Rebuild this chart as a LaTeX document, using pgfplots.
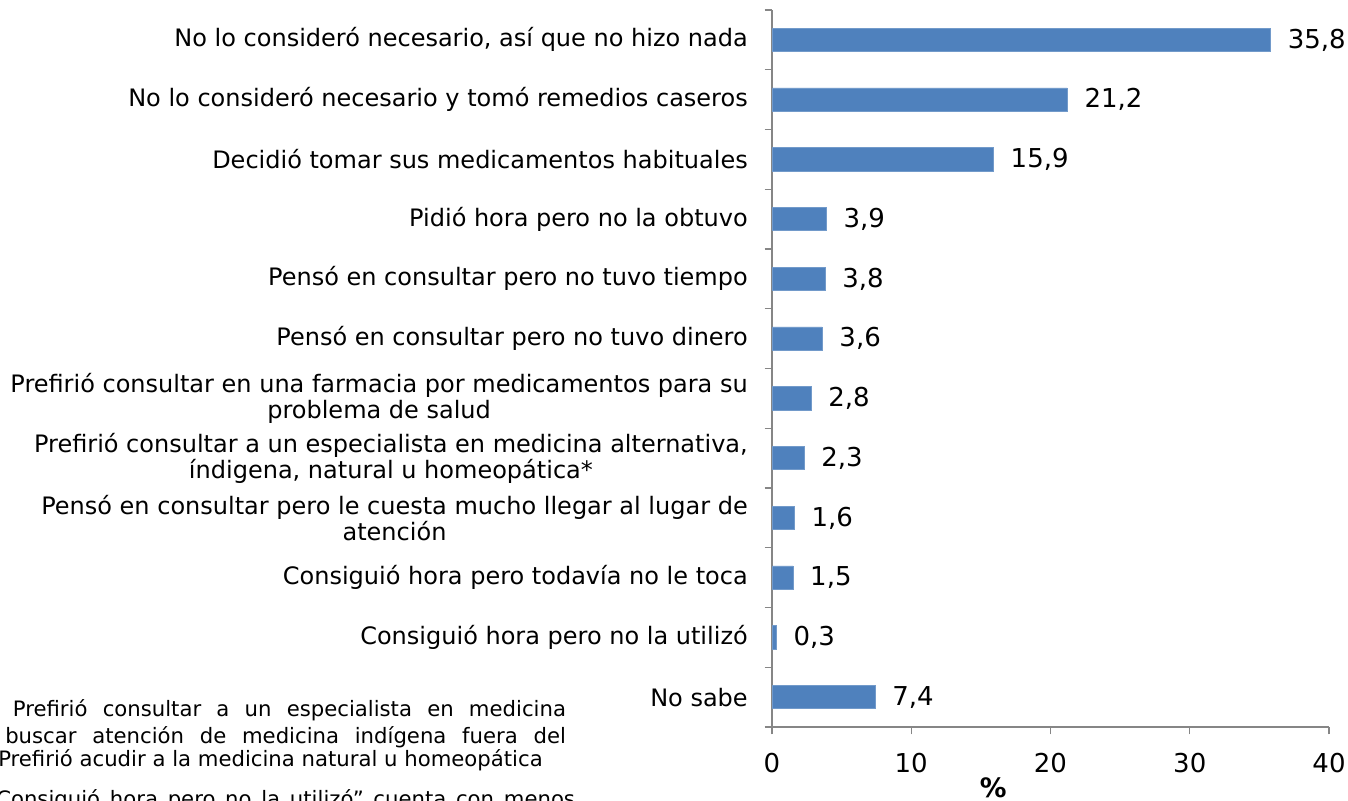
\documentclass[border=0pt]{standalone}
\usepackage{pgfplots}
\pgfplotsset{compat=1.18}
\usepackage{fontspec}
\setmainfont{DejaVu Sans}
\definecolor{barblue}{HTML}{4F81BD}
\definecolor{axisgray}{HTML}{868686}
\begin{document}
\begin{tikzpicture}
\useasboundingbox (0,0) rectangle (1011pt,600pt);
\begin{axis}[
  at={(579pt,54.75pt)}, anchor=south west,
  scale only axis, width=417.75pt, height=537.75pt,
  xbar, bar width=17.5pt,
  xmin=0, xmax=40, xtick={0,10,20,30,40},
  ymin=-0.5, ymax=11.5,
  axis lines*=left,
  axis line style={draw=axisgray, line width=0.9pt},
  tick align=outside,
  major tick length=5.5pt,
  every tick/.style={draw=axisgray, line width=0.9pt},
  /pgf/number format/assume math mode=true,
  xticklabel style={font=\fontsize{19.5}{23}\selectfont, inner sep=0pt, anchor=north, yshift=-14pt},
  ytick={-0.5,0.5,...,11.5},
  yticklabels={},
  extra y ticks={0,1,2,3,4,5,6,7,8,9,10,11},
  extra y tick style={major tick length=0pt},
  extra y tick labels={
    No sabe,
    Consiguió hora pero no la utilizó,
    Consiguió hora pero todavía no le toca,
    {Pensó en consultar pero le cuesta mucho llegar al lugar de\\atención},
    {Prefirió consultar a un especialista en medicina alternativa,\\índigena, natural u homeopática*},
    {Prefirió consultar en una farmacia por medicamentos para su\\problema de salud},
    Pensó en consultar pero no tuvo dinero,
    Pensó en consultar pero no tuvo tiempo,
    Pidió hora pero no la obtuvo,
    Decidió tomar sus medicamentos habituales,
    No lo consideró necesario y tomó remedios caseros,
    {No lo consideró necesario, así que no hizo nada}
  },
  yticklabel style={font=\fontsize{18}{19.8}\selectfont, align=center, anchor=east, inner sep=0pt, xshift=-18pt},
  xlabel={\textbf{\%}},
  xlabel style={at={(axis description cs:0.397,0)}, anchor=north, inner sep=0pt, yshift=-37.5pt, font=\fontsize{20}{22}\selectfont},
  nodes near coords={\pgfmathprintnumber[fixed,fixed zerofill,precision=1,use comma]{\pgfplotspointmeta}},
  nodes near coords style={font=\fontsize{19.5}{23}\selectfont, anchor=west, inner sep=0pt, xshift=12.75pt, /pgf/number format/assume math mode=true},
  clip=false,
]
\addplot[fill=barblue, draw=barblue!80!white, line width=0.5pt] coordinates {
  (7.4,0) (0.3,1) (1.5,2) (1.6,3) (2.3,4) (2.8,5) (3.6,6) (3.8,7) (3.9,8) (15.9,9) (21.2,10) (35.8,11)
};
\end{axis}
\begin{scope}
\clip (0,0) rectangle (1011pt,600pt);
\begin{scope}[every node/.style={anchor=base west, inner sep=0pt, font=\fontsize{15.9}{18}\selectfont}]
\node at (9.5pt,62.5pt) {\makebox[414.75pt][s]{Prefirió consultar a un especialista en medicina}};
\node at (3.75pt,42.4pt) {\makebox[420.5pt][s]{buscar atención de medicina indígena fuera del}};
\node at (-1.5pt,25pt) {Prefirió acudir a la medicina natural u homeopática};
\node at (-3pt,-5pt) {\makebox[434pt][s]{Consiguió hora pero no la utilizó” cuenta con menos}};
\end{scope}
\end{scope}
\end{tikzpicture}
\end{document}
